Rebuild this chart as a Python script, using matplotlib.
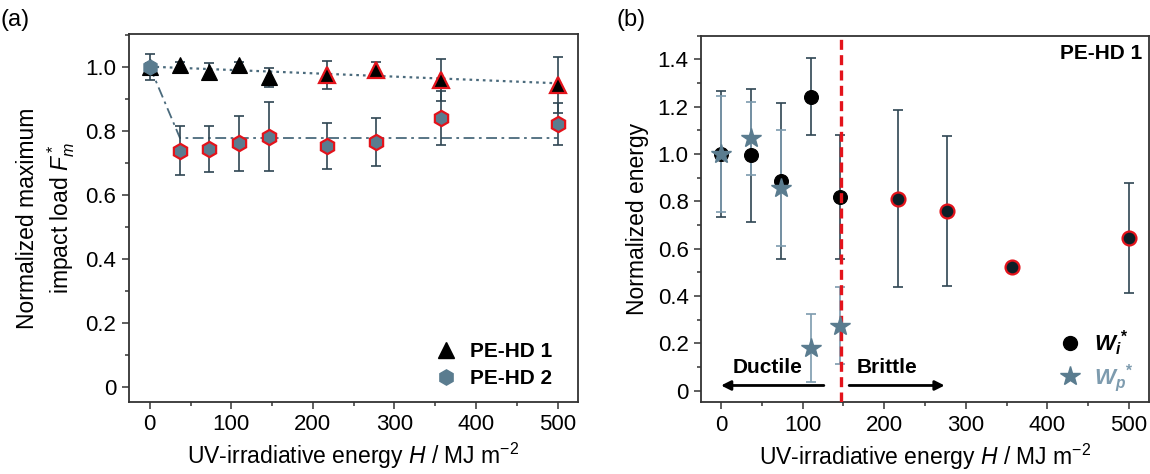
import matplotlib
matplotlib.use("Agg")
import matplotlib.pyplot as plt
from matplotlib.ticker import MultipleLocator, FuncFormatter
from matplotlib.lines import Line2D

plt.rcParams['font.family'] = ['Liberation Sans', 'DejaVu Sans']
plt.rcParams['mathtext.fontset'] = 'custom'
plt.rcParams['mathtext.rm'] = 'Liberation Sans'
plt.rcParams['mathtext.it'] = 'Liberation Sans:italic'
plt.rcParams['mathtext.bf'] = 'Liberation Sans:bold'
plt.rcParams['mathtext.bfit'] = 'Liberation Sans:italic:bold'

# ---------------- data ----------------
H = [0, 37, 73, 110, 146, 217, 277, 357, 500]

# panel (a): normalized maximum impact load
pe1_F = [1.00, 1.005, 0.984, 1.005, 0.967, 0.974, 0.99, 0.958, 0.943]
pe1_err = [0.01, 0.01, 0.027, 0.01, 0.03, 0.043, 0.025, 0.065, 0.088]
pe1_brittle = [False, False, False, False, False, True, True, True, True]

pe2_F = [1.00, 0.7375, 0.743, 0.76, 0.781, 0.753, 0.764, 0.839, 0.821]
pe2_err = [0.041, 0.077, 0.072, 0.087, 0.108, 0.072, 0.074, 0.085, 0.065]
pe2_brittle = [False, True, True, True, True, True, True, True, True]

fit1_H = [0, 500]
fit1_F = [1.0, 0.948]
fit2_H = [0, 37, 500]
fit2_F = [1.0, 0.777, 0.777]

# panel (b): normalized energy (PE-HD 1)
Wi = [1.0, 0.994, 0.886, 1.242, 0.82, 0.812, 0.76, 0.521, 0.645]
Wi_err = [0.265, 0.28, 0.33, 0.162, 0.262, 0.374, 0.316, 0.0, 0.234]
Wi_brittle = [False, False, False, False, False, True, True, True, True]

Hp = [0, 37, 73, 110, 146]
Wp = [1.0, 1.066, 0.857, 0.179, 0.275]
Wp_err = [0.245, 0.155, 0.245, 0.143, 0.163]

H_transition = 147

# ---------------- styling ----------------
BLACK = '#000000'
STEEL = '#5a7c8f'
ERR_DARK = '#2f4653'
ERR_LIGHT = '#7d9bae'
RED = '#e3131b'
SPINE = '#333333'
TICK_FS = 16
LABEL_FS = 16.5

fig = plt.figure(figsize=(11.5, 4.74), dpi=100)
ax1 = fig.add_axes([0.1118, 0.1525, 0.3908, 0.7751])
ax2 = fig.add_axes([0.6096, 0.1513, 0.3896, 0.7734])

def style_axes(ax):
    for s in ax.spines.values():
        s.set_color(SPINE)
        s.set_linewidth(1.3)
    ax.tick_params(which='both', direction='out', top=False, right=False,
                   color=SPINE, labelsize=TICK_FS, width=1.1)
    ax.tick_params(which='major', length=5, pad=4)
    ax.tick_params(which='minor', length=3)
    ax.xaxis.set_major_locator(MultipleLocator(100))
    ax.xaxis.set_minor_locator(MultipleLocator(50))
    ax.yaxis.set_major_locator(MultipleLocator(0.2))
    ax.yaxis.set_minor_locator(MultipleLocator(0.1))
    ax.yaxis.set_major_formatter(FuncFormatter(lambda v, p: '0' if abs(v) < 1e-9 else f'{v:.1f}'))
    ax.set_xlabel(r'UV-irradiative energy $H$ / MJ m$^{-2}$', fontsize=LABEL_FS, labelpad=4)

# ---------------- panel (a) ----------------
style_axes(ax1)
ax1.set_xlim(-26, 525)
ax1.set_ylim(-0.047, 1.101)

ax1.plot(fit1_H, fit1_F, linestyle=(0, (1.2, 1.8)), color='#4a6a7c', lw=1.6, zorder=1)
ax1.plot(fit2_H, fit2_F, linestyle=(0, (6, 2.5, 1.5, 2.5)), color='#4a6a7c', lw=1.3, zorder=1)

ax1.errorbar(H, pe1_F, yerr=pe1_err, fmt='none', ecolor=ERR_DARK, elinewidth=1.2,
             capsize=3.5, capthick=1.2, zorder=2)
ax1.errorbar(H, pe2_F, yerr=pe2_err, fmt='none', ecolor=ERR_DARK, elinewidth=1.2,
             capsize=3.5, capthick=1.2, zorder=2)
for x, y, b in zip(H, pe1_F, pe1_brittle):
    ax1.plot(x, y, marker='^', ms=11.5, mfc=BLACK, mec=RED if b else BLACK,
             mew=1.6 if b else 0.8, ls='none', zorder=3)
for x, y, b in zip(H, pe2_F, pe2_brittle):
    ax1.plot(x, y, marker='h', ms=11, mfc=STEEL, mec=RED if b else STEEL,
             mew=1.6 if b else 0.8, ls='none', zorder=4)

h1 = Line2D([], [], marker='^', ms=11, color=BLACK, ls='none')
h2 = Line2D([], [], marker='h', ms=11, color=STEEL, ls='none')
leg1 = ax1.legend([h1, h2], ['PE-HD 1', 'PE-HD 2'], loc='lower right', frameon=False,
                  prop={'weight': 'bold', 'size': 15}, handletextpad=0.55,
                  labelspacing=0.4, borderaxespad=0.5, handlelength=1.2,
                  bbox_to_anchor=(0.985, -0.015))

ax1.set_ylabel('Normalized maximum\nimpact load $F^*_m$', fontsize=LABEL_FS, labelpad=6,
               linespacing=1.25)
fig.text(0.0, 0.957, '(a)', fontsize=17, ha='left', va='center')

# ---------------- panel (b) ----------------
style_axes(ax2)
ax2.set_xlim(-24.5, 524.5)
ax2.set_ylim(-0.049, 1.5)

ax2.errorbar(H, Wi, yerr=Wi_err, fmt='none', ecolor=ERR_DARK, elinewidth=1.2,
             capsize=3.5, capthick=1.2, zorder=2)
ax2.errorbar(Hp, Wp, yerr=Wp_err, fmt='none', ecolor=ERR_LIGHT, elinewidth=1.2,
             capsize=3.5, capthick=1.2, zorder=2)
for x, y, b in zip(H, Wi, Wi_brittle):
    ax2.plot(x, y, marker='o', ms=10, mfc='#0b1f27' if b else BLACK,
             mec=RED if b else BLACK, mew=1.6 if b else 0.8, ls='none', zorder=3)
ax2.plot(Hp, Wp, marker='*', ms=15, color=STEEL, ls='none', zorder=5)

ax2.axvline(H_transition, color=RED, lw=2.4, ls=(0, (3, 1.6)), zorder=4)

ax2.annotate('', xy=(0, 0.022), xytext=(126, 0.022),
             arrowprops=dict(arrowstyle='-|>', color=BLACK, lw=2, mutation_scale=14, shrinkA=0, shrinkB=0))
ax2.annotate('', xy=(274, 0.022), xytext=(157, 0.022),
             arrowprops=dict(arrowstyle='-|>', color=BLACK, lw=2, mutation_scale=14, shrinkA=0, shrinkB=0))
ax2.text(57, 0.1, 'Ductile', fontsize=15, fontweight='bold', ha='center', va='center')
ax2.text(203, 0.1, 'Brittle', fontsize=15, fontweight='bold', ha='center', va='center')
ax2.text(0.985, 0.952, 'PE-HD 1', transform=ax2.transAxes, fontsize=15,
         fontweight='bold', ha='right', va='center')

hi = Line2D([], [], marker='o', ms=10, color=BLACK, ls='none')
hp = Line2D([], [], marker='*', ms=15, color=STEEL, ls='none')
leg2 = ax2.legend([hi, hp], [r'$\mathbfit{W}_{\mathbfit{i}}{}^{\mathbf{*}}$',
                             r'$\mathbfit{W}_{\mathbfit{p}}{}^{\mathbf{*}}$'],
                  loc='lower right', frameon=False, prop={'size': 16},
                  handletextpad=0.5, labelspacing=0.2, borderaxespad=0.3,
                  handlelength=1.2, bbox_to_anchor=(1.0, -0.02))
leg2.get_texts()[1].set_color(ERR_LIGHT)

ax2.set_ylabel('Normalized energy', fontsize=LABEL_FS, labelpad=6)
fig.text(0.536, 0.957, '(b)', fontsize=17, ha='left', va='center')

fig.savefig('out.png', dpi=100)
